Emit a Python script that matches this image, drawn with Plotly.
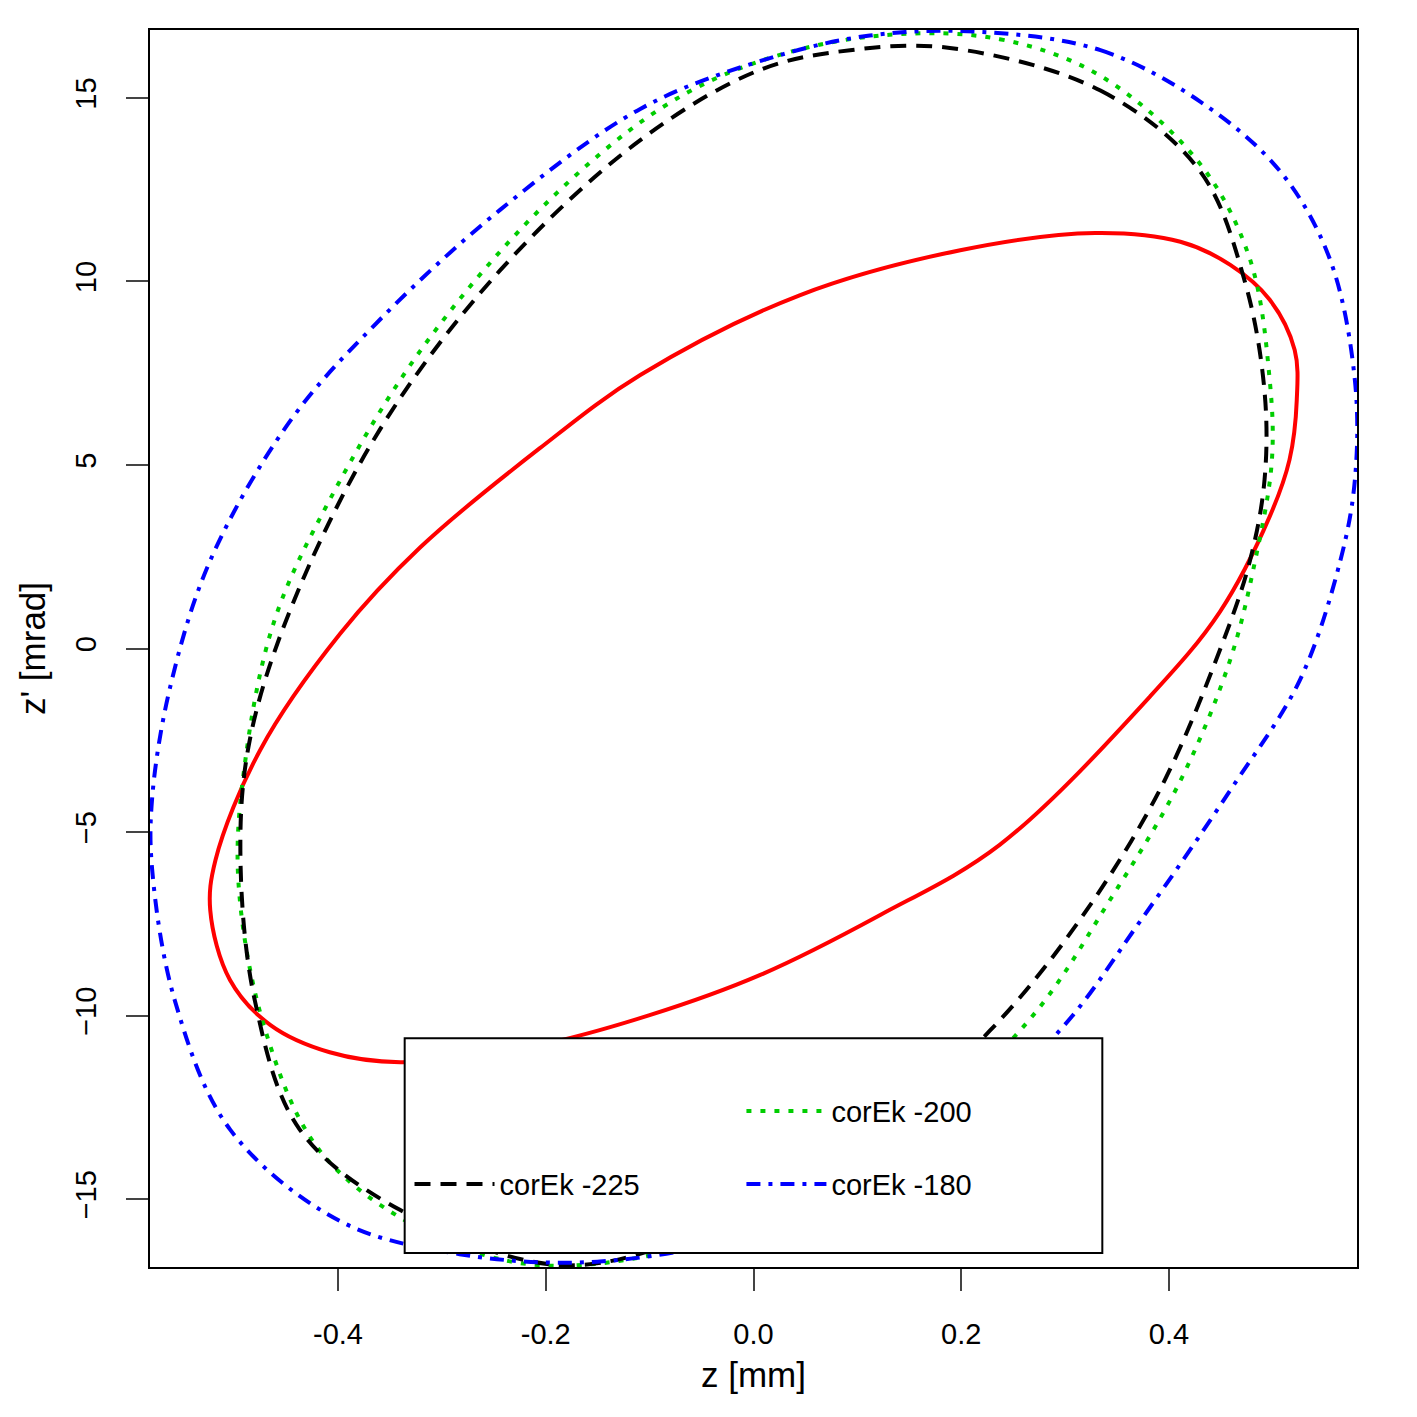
import plotly.graph_objects as go

red_z = [0.523,0.521,0.497,0.459,0.411,0.329,0.199,0.045,-0.109,-0.206,-0.321,-0.398,-0.475,-0.518,-0.523,-0.504,-0.465,-0.408,-0.340,-0.206,-0.100,0.006,0.122,0.237,0.382,0.449,0.497,0.516,0.523]
red_y = [6.76,8.13,9.50,10.45,11.08,11.32,10.85,9.63,7.45,5.45,2.75,0.40,-2.77,-5.77,-7.13,-9.03,-10.26,-11.0,-11.27,-10.8,-9.99,-8.9,-7.26,-5.35,-1.3,1.0,3.6,5.14,6.76]

black_z = [0.189,0.334,0.430,0.473,0.492,0.492,0.478,0.449,0.391,0.314,0.228,0.10,-0.05,-0.186,-0.340,-0.437,-0.480,-0.494,-0.485,-0.446,-0.360,-0.244,-0.109,0.006,0.093,0.189]
black_y = [16.36,15.2,13.0,10.0,7.0,4.6,2.4,-0.04,-3.86,-7.4,-10.4,-13.6,-15.9,-16.8,-15.3,-13.1,-9.6,-5.5,-2.5,1.05,5.95,10.3,13.85,15.76,16.3,16.36]

green_z = [0.122,0.237,0.334,0.430,0.478,0.497,0.499,0.483,0.459,0.411,0.343,0.266,0.14,-0.03,-0.206,-0.321,-0.417,-0.470,-0.496,-0.489,-0.461,-0.408,-0.321,-0.206,-0.090,0.006,0.122]
green_y = [16.7,16.6,15.6,13.2,10.6,7.3,5.1,2.4,-0.3,-3.6,-6.86,-10.1,-13.4,-16.0,-16.8,-15.8,-13.7,-10.4,-6.3,-3.0,0.78,4.05,8.1,11.95,14.7,16.0,16.7]

blue_z = [0.218,0.334,0.430,0.507,0.555,0.579,0.579,0.565,0.526,0.459,0.373,0.295,0.17,0.0,-0.148,-0.283,-0.398,-0.504,-0.557,-0.579,-0.579,-0.562,-0.523,-0.446,-0.360,-0.244,-0.109,0.006,0.112,0.218]
blue_y = [16.8,16.3,14.9,13.0,10.6,7.3,4.6,2.4,-0.86,-3.86,-7.4,-10.4,-13.6,-15.9,-16.7,-16.5,-15.6,-13.1,-9.6,-6.0,-4.1,-1.1,2.4,6.2,8.95,11.95,14.7,16.0,16.7,16.8]

x_ticks = [-0.4,-0.2,0.0,0.2,0.4]
x_labels = ["-0.4","-0.2","0.0","0.2","0.4"]
y_ticks = [-15,-10,-5,0,5,10,15]

series = [
    ("corEk -250", red_z, red_y, "red", "solid", "legend"),
    ("corEk -200", green_z, green_y, "#00cd00", "5px,9px", "legend2"),
    ("corEk -225", black_z, black_y, "black", "16px,10px", "legend3"),
    ("corEk -180", blue_z, blue_y, "blue", "14px,8px,4px,8px", "legend4"),
]

fig = go.Figure()
for name, z, y, c, d, lg in series:
    fig.add_trace(go.Scatter(x=z, y=y, mode="lines", name=name, legend=lg,
                             line=dict(color=c, width=4, dash=d, shape="spline", smoothing=1.0)))

font = dict(family="Liberation Sans, Arial", size=29, color="black")
def leg(x, y):
    return dict(x=x, y=y, xanchor="left", yanchor="middle", bgcolor="rgba(0,0,0,0)",
                font=font, itemwidth=80)

fig.update_layout(
    width=1417, height=1417, plot_bgcolor="white", paper_bgcolor="white",
    margin=dict(l=142, r=68, t=22, b=158), font=font,
    xaxis=dict(range=[-0.581, 0.581], tickvals=x_ticks, ticktext=x_labels, ticks="outside",
               ticklen=22, tickwidth=2, showgrid=False, zeroline=False, showline=True,
               ticklabelstandoff=18,
               linecolor="black", linewidth=2, mirror=True, title=dict(text="z [mm]", standoff=14)),
    yaxis=dict(range=[-16.85, 16.85], tickvals=y_ticks, ticks="outside", ticklen=22, tickwidth=2,
               tickangle=-90, showgrid=False, zeroline=False, showline=True, linecolor="black",
               ticklabelstandoff=18,
               linewidth=2, mirror=True, title=dict(text="z' [mrad]", standoff=14)),
    legend=leg(0.215, 0.126),
    legend2=leg(0.49, 0.126),
    legend3=leg(0.215, 0.067),
    legend4=leg(0.49, 0.067),
    shapes=[dict(type="rect", xref="paper", yref="paper", x0=0.211, x1=0.789, y0=0.0113, y1=0.185,
                 fillcolor="white", line=dict(color="black", width=2), layer="above")],
)
fig.write_html("out.html")
